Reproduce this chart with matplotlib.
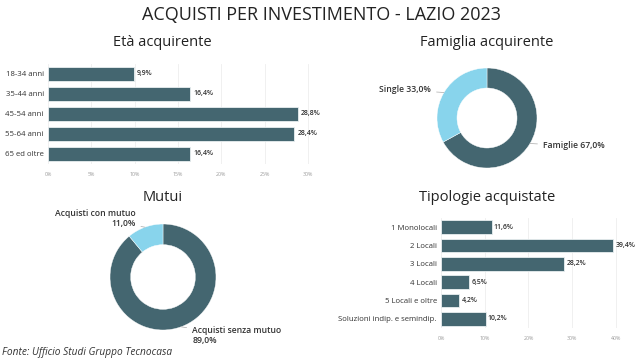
import numpy as np
import matplotlib
matplotlib.use('Agg')
import matplotlib.pyplot as plt

plt.rcParams['font.family'] = ['Open Sans', 'DejaVu Sans']

# data
eta_labels = ['18-34 anni', '35-44 anni', '45-54 anni', '55-64 anni', '65 ed oltre']
eta_values = [9.9, 16.4, 28.8, 28.4, 16.4]

fam_labels = ['Famiglie', 'Single']
fam_values = [67.0, 33.0]

mutui_labels = ['Acquisti senza mutuo', 'Acquisti con mutuo']
mutui_values = [89.0, 11.0]

tipo_labels = ['1 Monolocali', '2 Locali', '3 Locali', '4 Locali',
               '5 Locali e oltre', 'Soluzioni indip. e semindip.']
tipo_values = [11.6, 39.4, 28.2, 6.5, 4.2, 10.2]

DARK = '#446670'
LIGHT = '#88D4EC'
W, H = 644, 360

fig = plt.figure(figsize=(W / 100, H / 100), dpi=100)
fig.patch.set_facecolor('white')


def px_axes(left, top, right, bottom):
    return fig.add_axes([left / W, 1 - bottom / H, (right - left) / W, (bottom - top) / H])


def fmt(v):
    return f'{v:.1f}%'.replace('.', ',')


def bar_chart(ax, labels, values, xmax, ticks, height):
    y = np.arange(len(labels))
    ax.barh(y, values, height=height, color=DARK, edgecolor='#e8eef0', linewidth=0.6, zorder=2)
    ax.set_ylim(len(labels) - 0.5, -0.5)
    ax.set_xlim(0, xmax)
    ax.set_yticks(y)
    ax.set_yticklabels(labels, fontsize=5.6, color='#333333')
    ax.set_xticks(ticks)
    ax.set_xticklabels([f'{t}%' for t in ticks], fontsize=3.8, color='#999999')
    ax.tick_params(length=0, pad=3)
    ax.tick_params(axis='x', pad=6)
    ax.grid(axis='x', color='#eeeeee', linewidth=0.6, zorder=0)
    for s in ax.spines.values():
        s.set_visible(False)
    for yi, v in zip(y, values):
        ax.text(v + xmax * 0.012, yi, fmt(v), va='center', ha='left',
                fontsize=5, color='#333333', fontweight='semibold')


def donut(ax, values, colors, width):
    ax.pie(values, colors=colors, startangle=90, counterclock=False,
           wedgeprops=dict(width=width, edgecolor='white', linewidth=0.3))
    ax.set_xlim(-1, 1)
    ax.set_ylim(-1, 1)
    ax.set_aspect('equal')
    ax.axis('off')


lbl = dict(fontsize=6.2, color='#333333', annotation_clip=False, fontweight='semibold')
line = dict(arrowstyle='-', color='#aaaaaa', lw=0.5, shrinkA=2, shrinkB=0)

fig.text(322 / W, 1 - 15 / H, 'ACQUISTI PER INVESTIMENTO - LAZIO 2023',
         ha='center', va='center', fontsize=13, color='#222222')

# Età acquirente
ax1 = px_axes(48, 64, 312, 164)
bar_chart(ax1, eta_labels, eta_values, 30.46, [0, 5, 10, 15, 20, 25, 30], 0.72)
fig.text(162 / W, 1 - 43 / H, 'Età acquirente', ha='center', va='center',
         fontsize=10.5, color='#222222')

# Famiglia acquirente
ax2 = px_axes(437, 68, 537, 168)
donut(ax2, fam_values, [DARK, LIGHT], 0.4)
fig.text(487 / W, 1 - 43 / H, 'Famiglia acquirente', ha='center', va='center',
         fontsize=10.5, color='#222222')
ax2.annotate(f'{fam_labels[1]} {fmt(fam_values[1])}', xy=(-0.86, 0.51), xytext=(-1.12, 0.56),
             ha='right', va='center', arrowprops=line, **lbl)
ax2.annotate(f'{fam_labels[0]} {fmt(fam_values[0])}', xy=(0.86, -0.51), xytext=(1.12, -0.56),
             ha='left', va='center', arrowprops=line, **lbl)

# Mutui
ax3 = px_axes(110, 224, 216, 330)
donut(ax3, mutui_values, [DARK, LIGHT], 0.39)
fig.text(163 / W, 1 - 197 / H, 'Mutui', ha='center', va='center',
         fontsize=10.5, color='#222222')
ax3.annotate(f'{mutui_labels[1]}\n{fmt(mutui_values[1])}', xy=(-0.34, 0.94), xytext=(-0.52, 1.1),
             ha='right', va='center', multialignment='right', linespacing=1.1,
             arrowprops=line, **lbl)
ax3.annotate(f'{mutui_labels[0]}\n{fmt(mutui_values[0])}', xy=(0.34, -0.94), xytext=(0.55, -1.1),
             ha='left', va='center', multialignment='left', linespacing=1.1,
             arrowprops=line, **lbl)

# Tipologie acquistate
ax4 = px_axes(441, 218, 622, 328)
bar_chart(ax4, tipo_labels, tipo_values, 41.4, [0, 10, 20, 30, 40], 0.73)
fig.text(487 / W, 1 - 197 / H, 'Tipologie acquistate', ha='center', va='center',
         fontsize=10.5, color='#222222')

fig.text(2 / W, 1 - 352 / H, 'Fonte: Ufficio Studi Gruppo Tecnocasa', ha='left', va='center',
         fontsize=7.3, style='italic', color='#333333')

fig.savefig('out.png', dpi=100, facecolor='white')
